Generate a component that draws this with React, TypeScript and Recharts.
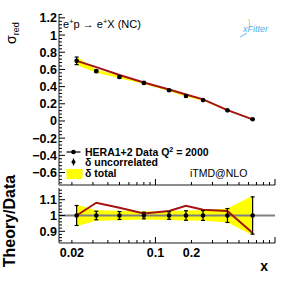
import { ComposedChart, Line, Area, XAxis, YAxis, ErrorBar, ReferenceLine } from "recharts";

// HERA 1+2 NC e+p, Q^2 = 2000 GeV^2
const X_BINS = [0.0219, 0.032, 0.05, 0.08, 0.13, 0.18, 0.25, 0.4, 0.65];
const DATA_SIGMA = [0.7, 0.58, 0.512, 0.443, 0.357, 0.291, 0.243, 0.124, 0.02];
const THEORY_SIGMA = [0.7, 0.627, 0.536, 0.448, 0.367, 0.309, 0.252, 0.127, 0.018];
const THEORY_RATIO = [1.0, 1.081, 1.049, 1.013, 1.028, 1.062, 1.036, 1.028, 0.89];
const UNCORR_REL = [0.063, 0.027, 0.025, 0.021, 0.024, 0.03, 0.031, 0.044, 0.118];
const TOTAL_REL = [0.068, 0.034, 0.03, 0.026, 0.028, 0.032, 0.034, 0.044, 0.125];

const X_TICKS = [
  0.02, 0.03, 0.04, 0.05, 0.06, 0.07, 0.08, 0.09,
  0.1, 0.2, 0.3, 0.4, 0.5, 0.6, 0.7, 0.8, 0.9, 1,
];
const X_LABELS = [0.02, 0.1, 0.2];
const X_LONG = [0.1, 1];
const X_DOMAIN = [0.0156, 1];

const TOP_DOMAIN = [-0.745, 1.245];
const RATIO_DOMAIN = [0.826, 1.174];

function steps(from: number, to: number, step: number) {
  const out: number[] = [];
  for (let v = from; v <= to + 1e-9; v += step) out.push(Math.round(v * 1000) / 1000);
  return out;
}
const TOP_TICKS = steps(-0.72, 1.24, 0.04);
const RATIO_TICKS = steps(0.84, 1.16, 0.02);

const topRows = X_BINS.map((x, i) => ({
  x,
  sigma: DATA_SIGMA[i],
  theory: THEORY_SIGMA[i],
  band: [DATA_SIGMA[i] * (1 - TOTAL_REL[i]), DATA_SIGMA[i] * (1 + TOTAL_REL[i])],
  uErr: DATA_SIGMA[i] * UNCORR_REL[i],
}));

const ratioRows = X_BINS.map((x, i) => ({
  x,
  one: 1,
  ratio: THEORY_RATIO[i],
  band: [1 - TOTAL_REL[i], 1 + TOTAL_REL[i]],
  uErr: UNCORR_REL[i],
}));

const FONT = "'Liberation Sans', Arial, Helvetica, sans-serif";
const FRAME = "#666";
const RED = "#a51212";
const YELLOW = "#ffff00";

const isMult = (v: number, m: number) => Math.abs(v / m - Math.round(v / m)) < 1e-6;
const fmt = (v: number) => String(Math.round(v * 10) / 10).replace("-", "\u2212");

function YTick(props: any) {
  const { x, y, payload, majorStep } = props;
  const v = payload.value as number;
  const major = isMult(v, majorStep);
  return (
    <g>
      <line x1={x} y1={y} x2={x + (major ? 6 : 3)} y2={y} stroke="#000" strokeWidth={1} />
      {major && (
        <text x={x - 2} y={y + 4.5} textAnchor="end" fontFamily={FONT} fontWeight="bold" fontSize={12.5} fill="#000">
          {fmt(v)}
        </text>
      )}
    </g>
  );
}

function XTick(props: any) {
  const { x, y, payload, showLabels } = props;
  const v = payload.value as number;
  const long = X_LONG.includes(v);
  return (
    <g>
      <line x1={x} y1={y} x2={x} y2={y - (long ? 6 : 3)} stroke="#000" strokeWidth={1} />
      {showLabels && X_LABELS.includes(v) && (
        <text x={x} y={y + 14} textAnchor="middle" fontFamily={FONT} fontWeight="bold" fontSize={12.5} fill="#000">
          {String(v)}
        </text>
      )}
    </g>
  );
}

function Overlay() {
  return (
    <svg width={289} height={281} style={{ position: "absolute", left: 0, top: 0, pointerEvents: "none" }}>
      {/* axis titles */}
      <g transform="translate(16,44) rotate(-90)" fontFamily={FONT}>
        <text x={0} y={0} fontSize={14}>
          σ<tspan fontSize={9} dy={3}>red</tspan>
        </text>
      </g>
      <text
        transform="translate(14.5,221) rotate(-90)"
        textAnchor="middle"
        fontFamily={FONT}
        fontWeight="bold"
        fontSize={16}
      >
        Theory/Data
      </text>
      <text x={268} y={271} textAnchor="end" fontFamily={FONT} fontWeight="bold" fontSize={14}>
        x
      </text>

      {/* process */}
      <text x={63} y={28} fontFamily={FONT} fontSize={11}>
        e<tspan fontSize={7.5} dy={-4}>+</tspan>
        <tspan dy={4}>p → e</tspan>
        <tspan fontSize={7.5} dy={-4}>+</tspan>
        <tspan dy={4}>X (NC)</tspan>
      </text>

      {/* xFitter logo */}
      <line x1={249} y1={19} x2={250} y2={28} stroke="#f2c94c" strokeWidth={1} />
      <line x1={247} y1={33} x2={240} y2={37} stroke="#8cc8ee" strokeWidth={1.2} />
      <text x={243} y={32} fontFamily={FONT} fontStyle="italic" fontSize={9} fill="#4fb0e6">
        xFitter
      </text>

      {/* legend */}
      <line x1={66.5} y1={152} x2={80.5} y2={152} stroke="#000" strokeWidth={1.2} />
      <circle cx={73.5} cy={152} r={2.3} fill="#000" />
      <text x={85} y={155.8} fontFamily={FONT} fontWeight="bold" fontSize={10.5}>
        HERA1+2 Data Q<tspan fontSize={7} dy={-4}>2</tspan>
        <tspan dy={4}> = 2000</tspan>
      </text>
      <line x1={73.5} y1={158.5} x2={73.5} y2={165.5} stroke="#000" strokeWidth={1.2} />
      <circle cx={73.5} cy={162} r={2} fill="#000" />
      <text x={85} y={166.3} fontFamily={FONT} fontWeight="bold" fontSize={10.5}>
        δ uncorrelated
      </text>
      <rect x={66.5} y={169} width={16} height={10} fill={YELLOW} />
      <text x={85} y={177.3} fontFamily={FONT} fontWeight="bold" fontSize={10.5}>
        δ total
      </text>
      <text x={190} y={177.3} fontFamily={FONT} fontSize={10.5}>
        iTMD@NLO
      </text>
    </svg>
  );
}

export default function App() {
  return (
    <div style={{ position: "absolute", left: 0, top: 0, width: 289, height: 281, background: "#fff" }}>
      <div style={{ position: "absolute", left: 0, top: 0 }}>
        <ComposedChart width={289} height={188} data={topRows} margin={{ top: 14, right: 14, bottom: 0, left: 0 }}>
          <XAxis
            dataKey="x"
            type="number"
            scale="log"
            domain={X_DOMAIN}
            allowDataOverflow
            ticks={X_TICKS}
            interval={0}
            height={3}
            tickSize={0}
            tickMargin={0}
            tickLine={false}
            axisLine={{ stroke: FRAME, strokeWidth: 1.5 }}
            tick={(p: any) => <XTick {...p} showLabels={false} />}
          />
          <XAxis
            xAxisId="top"
            orientation="top"
            dataKey="x"
            type="number"
            scale="log"
            domain={X_DOMAIN}
            allowDataOverflow
            height={0}
            tick={false}
            tickLine={false}
            axisLine={{ stroke: FRAME, strokeWidth: 1.5 }}
          />
          <YAxis
            type="number"
            domain={TOP_DOMAIN}
            allowDataOverflow
            ticks={TOP_TICKS}
            interval={0}
            width={59}
            tickSize={0}
            tickMargin={0}
            tickLine={false}
            axisLine={{ stroke: FRAME, strokeWidth: 1.5 }}
            tick={(p: any) => <YTick {...p} majorStep={0.2} />}
          />
          <YAxis
            yAxisId="right"
            orientation="right"
            type="number"
            domain={TOP_DOMAIN}
            width={0}
            tick={false}
            tickLine={false}
            axisLine={{ stroke: FRAME, strokeWidth: 1.5 }}
          />
          <Area dataKey="band" type="linear" stroke="none" fill={YELLOW} fillOpacity={1} isAnimationActive={false} />
          <Line dataKey="theory" type="linear" stroke={RED} strokeWidth={2} dot={false} isAnimationActive={false} />
          <Line
            dataKey="sigma"
            type="linear"
            stroke="none"
            dot={{ r: 2.3, fill: "#000", stroke: "none" }}
            isAnimationActive={false}
          >
            <ErrorBar dataKey="uErr" direction="y" width={2} stroke="#000" strokeWidth={1.2} />
          </Line>
        </ComposedChart>
      </div>

      <div style={{ position: "absolute", left: 0, top: 186 }}>
        <ComposedChart width={289} height={95} data={ratioRows} margin={{ top: 2, right: 14, bottom: 0, left: 0 }}>
          <XAxis
            dataKey="x"
            type="number"
            scale="log"
            domain={X_DOMAIN}
            allowDataOverflow
            ticks={X_TICKS}
            interval={0}
            height={38}
            tickSize={0}
            tickMargin={0}
            tickLine={false}
            axisLine={{ stroke: FRAME, strokeWidth: 1.5 }}
            tick={(p: any) => <XTick {...p} showLabels />}
          />
          <XAxis
            xAxisId="top"
            orientation="top"
            dataKey="x"
            type="number"
            scale="log"
            domain={X_DOMAIN}
            allowDataOverflow
            height={0}
            tick={false}
            tickLine={false}
            axisLine={{ stroke: FRAME, strokeWidth: 1.5 }}
          />
          <YAxis
            type="number"
            domain={RATIO_DOMAIN}
            allowDataOverflow
            ticks={RATIO_TICKS}
            interval={0}
            width={59}
            tickSize={0}
            tickMargin={0}
            tickLine={false}
            axisLine={{ stroke: FRAME, strokeWidth: 1.5 }}
            tick={(p: any) => <YTick {...p} majorStep={0.1} />}
          />
          <YAxis
            yAxisId="right"
            orientation="right"
            type="number"
            domain={RATIO_DOMAIN}
            width={0}
            tick={false}
            tickLine={false}
            axisLine={{ stroke: FRAME, strokeWidth: 1.5 }}
          />
          <Area dataKey="band" type="linear" stroke="none" fill={YELLOW} fillOpacity={1} isAnimationActive={false} />
          <ReferenceLine y={1} stroke="#808080" strokeWidth={2} />
          <Line dataKey="ratio" type="linear" stroke={RED} strokeWidth={2} dot={false} isAnimationActive={false} />
          <Line
            dataKey="one"
            type="linear"
            stroke="none"
            dot={{ r: 2.3, fill: "#000", stroke: "none" }}
            isAnimationActive={false}
          >
            <ErrorBar dataKey="uErr" direction="y" width={2} stroke="#000" strokeWidth={1.2} />
          </Line>
        </ComposedChart>
      </div>

      <Overlay />
    </div>
  );
}
